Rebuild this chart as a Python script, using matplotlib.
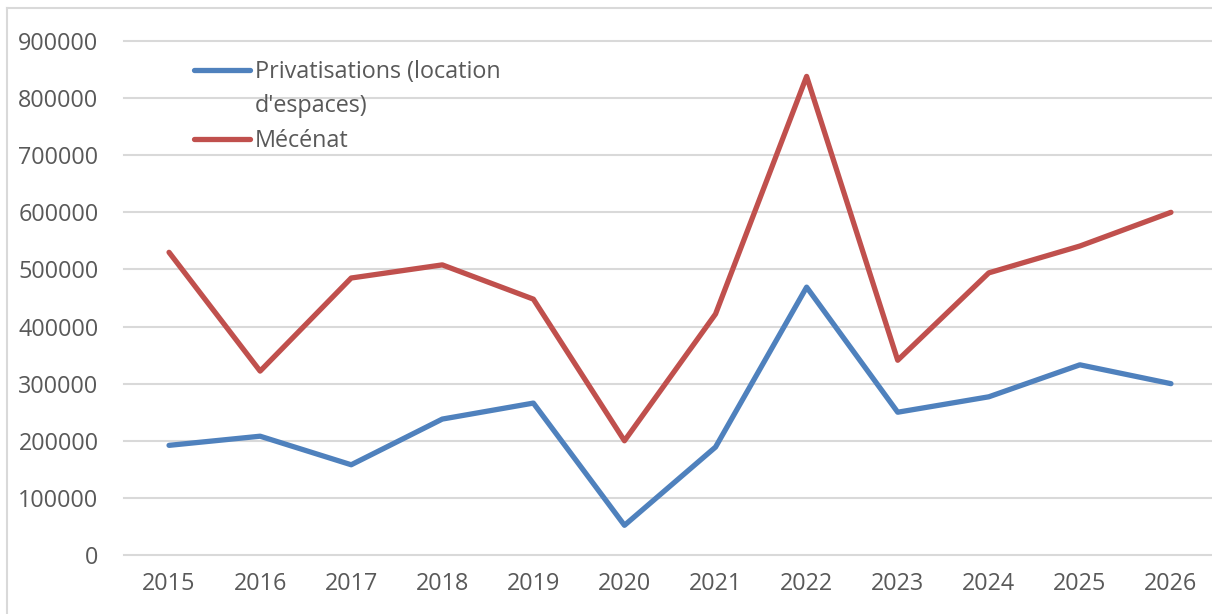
import matplotlib
matplotlib.use("Agg")
import matplotlib.pyplot as plt
from matplotlib.lines import Line2D

years = ["2015", "2016", "2017", "2018", "2019", "2020", "2021", "2022", "2023", "2024", "2025", "2026"]
privatisations = [192000, 208000, 158000, 238000, 266000, 52000, 189000, 469000, 250000, 277000, 333000, 300000]
mecenat = [530000, 322000, 485000, 508000, 448000, 200000, 422000, 838000, 341000, 494000, 541000, 600000]
yticks = [0, 100000, 200000, 300000, 400000, 500000, 600000, 700000, 800000, 900000]
label_priv = ["Privatisations (location", "d'espaces)"]
label_mec = "Mécénat"

plt.rcParams['font.family'] = ['Open Sans', 'DejaVu Sans']
W, H = 1212, 614
fig = plt.figure(figsize=(W / 100, H / 100), dpi=100)
ax = fig.add_axes([123.5 / W, 1 - 555 / H, (1216.5 - 123.5) / W, (555 - 41) / H])

x = list(range(len(years)))
l1, = ax.plot(x, privatisations, color="#4F81BD", lw=3.8, solid_capstyle="round", solid_joinstyle="round")
l2, = ax.plot(x, mecenat, color="#C0504D", lw=3.8, solid_capstyle="round", solid_joinstyle="round")

ax.set_xlim(-0.5, len(years) - 0.5)
ax.set_ylim(0, 900000)
ax.set_yticks(yticks)
ax.set_yticklabels([str(v) for v in yticks])
ax.set_xticks(x)
ax.set_xticklabels(years)
ax.grid(axis="y", color="#D9D9D9", lw=1.5)
ax.set_axisbelow(True)
for gl in ax.get_ygridlines():
    gl.set_clip_on(False)
for s in ax.spines.values():
    s.set_visible(False)
ax.tick_params(axis="both", length=0, labelsize=16.8, colors="#595959")
ax.tick_params(axis="y", pad=18)
ax.tick_params(axis="x", pad=12)

blank = Line2D([], [], color="none")
leg = ax.legend([l1, blank, l2], [label_priv[0], label_priv[1], label_mec],
                loc="upper left", bbox_to_anchor=(194 / W, 1 - 60 / H), bbox_transform=fig.transFigure,
                frameon=False, fontsize=16.8, handlelength=2.4, handletextpad=0.2,
                labelspacing=0.45, borderaxespad=0, borderpad=0)
for t in leg.get_texts():
    t.set_color("#595959")

# outer chart frame (left and top edges visible)
fig.add_artist(Line2D([7 / W, 7 / W], [0, 1 - 8 / H], transform=fig.transFigure, color="#D9D9D9", lw=1.5))
fig.add_artist(Line2D([7 / W, 1], [1 - 8 / H, 1 - 8 / H], transform=fig.transFigure, color="#D9D9D9", lw=1.5))

fig.savefig("out.png", dpi=100)
